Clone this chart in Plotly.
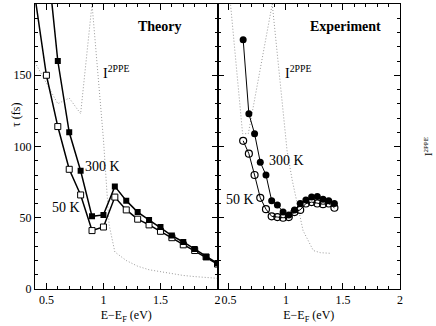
import plotly.graph_objects as go

# --- Theory (left panel) ---
th_x = [0.4, 0.5, 0.6, 0.7, 0.8, 0.9, 1.0, 1.1, 1.2, 1.3, 1.4, 1.5, 1.6, 1.7, 1.8, 1.9, 2.0]
th_300K = [None, 238, 160, 110, 83, 51, 52, 72, 62, 54, 48.5, 43.5, 37.5, 33, 28, 22.5, 18]
th_50K = [205, 150, 114, 84, 66, 41, 43.5, 64.5, 55.5, 49, 45, 40.5, 36, 31, 27, 22.5, 17.5]

th_i_x = [0.4, 0.5, 0.6, 0.7, 0.8, 0.9, 1.0, 1.05, 1.1, 1.2, 1.3, 1.4, 1.5, 1.6, 1.7, 1.8, 1.9, 2.0]
th_i = [159, 145, 130, 134, 123, 200, 105, 45, 26, 20, 16, 13.5, 12, 10.5, 9.5, 8.7, 8, 7.5]

# --- Experiment (right panel) ---
ex_x = [0.625, 0.675, 0.725, 0.775, 0.825, 0.875, 0.925, 0.975, 1.025,
        1.075, 1.125, 1.175, 1.225, 1.275, 1.325, 1.375, 1.425]
ex_300K = [175, 123, 109, 89, 80, 62, 59, 54, 52, 55.5, 60, 62.5, 64.5, 65, 63, 62, 60]
ex_50K = [104, 95, 80, 64, 56, 51, 50.5, 50, 50.5, 54, 55.5, 60, 61, 60, 59.5, 60, 57]

ex_i_x = [0.5, 0.62, 0.67, 0.88, 1.01, 1.056, 1.15, 1.24, 1.30, 1.40]
ex_i = [212, 109, 109, 200, 97, 76, 41, 27, 25.5, 25]

x_ticks = [0.5, 1, 1.5, 2]
x_ticklabels = ["0.5", "1", "1.5", "2"]

FONT = "Liberation Serif, Times New Roman, serif"
dot_line = dict(color="#999999", width=1, dash="1px,2px")

fig = go.Figure()

# theory
fig.add_trace(go.Scatter(x=th_i_x, y=th_i, mode="lines", line=dot_line,
                         xaxis="x", yaxis="y", showlegend=False))
fig.add_trace(go.Scatter(x=th_x, y=th_50K, mode="lines+markers",
                         line=dict(color="black", width=1.5),
                         marker=dict(symbol="square", size=6, color="white",
                                     line=dict(color="black", width=1)),
                         xaxis="x", yaxis="y", showlegend=False))
fig.add_trace(go.Scatter(x=th_x, y=th_300K, mode="lines+markers",
                         line=dict(color="black", width=1.5),
                         marker=dict(symbol="square", size=6, color="black"),
                         xaxis="x", yaxis="y", showlegend=False))

# experiment
fig.add_trace(go.Scatter(x=ex_i_x, y=ex_i, mode="lines", line=dot_line,
                         xaxis="x2", yaxis="y2", showlegend=False))
fig.add_trace(go.Scatter(x=ex_x, y=ex_300K, mode="lines+markers",
                         line=dict(color="black", width=1),
                         marker=dict(symbol="circle", size=7, color="black"),
                         xaxis="x2", yaxis="y2", showlegend=False))
fig.add_trace(go.Scatter(x=ex_x, y=ex_50K, mode="lines+markers",
                         line=dict(color="black", width=1),
                         marker=dict(symbol="circle-open", size=7, color="black",
                                     line=dict(width=1.2)),
                         xaxis="x2", yaxis="y2", showlegend=False))

axis_common = dict(
    range=[0.4, 2], showline=True, linecolor="black", linewidth=1, mirror="ticks",
    ticks="inside", ticklen=6, tickcolor="black", showgrid=False, zeroline=False,
    tickvals=x_ticks, ticktext=x_ticklabels,
    minor=dict(dtick=0.1, tick0=0, ticks="inside", ticklen=3, tickcolor="black"),
    tickfont=dict(family=FONT, size=12, color="black"),
    title=dict(text="E\u2212E<sub>F</sub> (eV)", font=dict(family=FONT, size=12, color="black"),
               standoff=4),
)
yaxis_common = dict(
    range=[0, 200], showline=True, linecolor="black", linewidth=1, mirror="ticks",
    ticks="inside", ticklen=6, tickcolor="black", showgrid=False, zeroline=False,
    dtick=50, minor=dict(dtick=10, ticks="inside", ticklen=3, tickcolor="black"),
    tickfont=dict(family=FONT, size=12, color="black"),
)

fig.update_layout(
    width=436, height=326,
    margin=dict(l=35, r=36, t=4, b=37),
    paper_bgcolor="white", plot_bgcolor="white",
    font=dict(family=FONT, size=12, color="black"),
    xaxis=dict(domain=[0, 0.5], anchor="y", **axis_common),
    xaxis2=dict(domain=[0.5, 1], anchor="y2", **axis_common),
    yaxis=dict(anchor="x", **yaxis_common),
    yaxis2=dict(anchor="x2", showticklabels=False, **yaxis_common),
)

ann = []
ann.append(dict(text="<b>Theory</b>", x=1.5, y=184, xref="x", yref="y",
                showarrow=False, font=dict(size=14)))
ann.append(dict(text="<b>Experiment</b>", x=1.52, y=184, xref="x2", yref="y2",
                showarrow=False, font=dict(size=14)))
ann.append(dict(text="I<sup>2PPE</sup>", x=0.98, y=152, xref="x", yref="y",
                xanchor="left", showarrow=False, font=dict(size=14)))
ann.append(dict(text="I<sup>2PPE</sup>", x=0.97, y=152, xref="x2", yref="y2",
                xanchor="left", showarrow=False, font=dict(size=14)))
ann.append(dict(text="300 K", x=0.82, y=86, xref="x", yref="y",
                xanchor="left", showarrow=False, font=dict(size=14)))
ann.append(dict(text="50 K", x=0.53, y=57.5, xref="x", yref="y",
                xanchor="left", showarrow=False, font=dict(size=14)))
ann.append(dict(text="300 K", x=0.835, y=90.5, xref="x2", yref="y2",
                xanchor="left", showarrow=False, font=dict(size=14)))
ann.append(dict(text="50 K", x=0.46, y=63, xref="x2", yref="y2",
                xanchor="left", showarrow=False, font=dict(size=14)))
ann.append(dict(text="\u03c4 (fs)", x=-0.077, y=0.61, xref="paper", yref="paper",
                textangle=-90, showarrow=False, font=dict(size=12)))
ann.append(dict(text="I<sup>2PPE</sup>", x=1.097, y=0.5, xref="paper", yref="paper",
                textangle=-90, showarrow=False, font=dict(size=10)))
fig.update_layout(annotations=ann)

# remove the default page margin so the figure sits at the top-left corner
fig.write_html("out.html", config={"displayModeBar": False},
               post_script="document.body.style.margin='0';document.body.style.overflow='hidden';")
